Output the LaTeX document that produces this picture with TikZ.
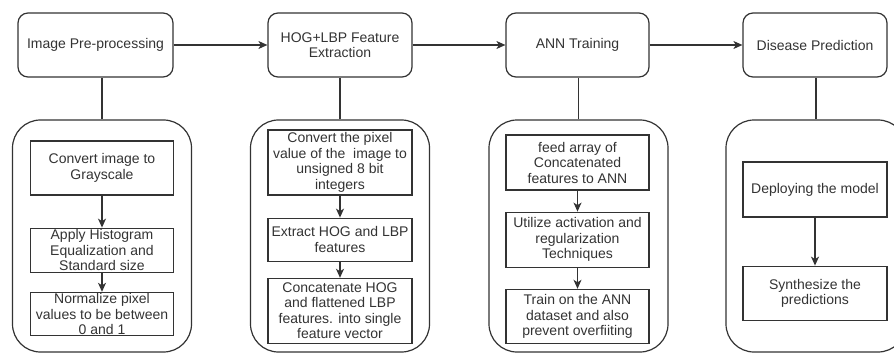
\documentclass[tikz,border=0pt]{standalone}
\usepackage{fontspec}
\setmainfont{Liberation Sans}
\usetikzlibrary{arrows.meta, positioning}
\definecolor{ink}{HTML}{333333}
\begin{document}
\begin{tikzpicture}[x=1pt, y=1pt, line width=1.2pt, color=ink,
                    every node/.style={align=center, inner sep=1pt, font=\fontsize{14}{15.5}\selectfont},
                    stage/.style={draw, rounded corners=10pt, minimum width=144pt, minimum height=64pt},
                    group/.style={draw, rounded corners=28pt, minimum width=179pt, minimum height=232pt},
                    task/.style={draw, minimum width=143pt},
                    flow/.style={-{Stealth[length=9pt, width=8pt, inset=2.5pt]}}]
                    \useasboundingbox (0,0) rectangle (894,354);
                    \clip (0,0) rectangle (894,354);
                    \node[stage, minimum width=155pt](s1) at (95.5,309){Image Pre-processing};
                    \node[stage](s2) at (340,309){HOG+LBP Feature\\Extraction};
                    \node[stage, minimum width=143pt](s3) at (577.5,309){ANN Training};
                    \node[stage](s4) at (815,309){Disease Prediction};
                    \draw[flow] (s1) -- (s2);
                    \draw[flow] (s2) -- (s3);
                    \draw[flow] (s3) -- (s4);
                    \node[group](g1) at (102,118){};
                    \node[group](g2) at (340,118){};
                    \node[group](g3) at (578.5,118){};
                    \node[group, minimum width=180pt](g4) at (816,118){};
                    \foreach \i in {1,...,4}
                        \draw (g\i.north) -- (g\i.north |- s\i.south);
                    \node[task, minimum height=54pt](a1) at (102,186){Convert image to\\Grayscale};
                    \node[task, minimum height=44pt, below=32pt of a1](b1){Apply Histogram\\Equalization and\\Standard size};
                    \node[task, minimum height=43pt, below=19pt of b1](c1){Normalize pixel\\values to be between\\0 and 1};
                    \node[task, minimum width=144pt, minimum height=65pt](a2) at (340,191.5){Convert the pixel\\value of the~ image to\\unsigned 8 bit\\integers};
                    \node[task, minimum width=144pt, minimum height=43pt, below=22pt of a2](b2){Extract HOG and LBP\\features};
                    \node[task, minimum width=144pt, minimum height=65pt, below=16pt of b2](c2){Concatenate HOG\\and flattened LBP\\features. into single\\feature vector};
                    \node[task, minimum height=55pt](a3) at (577.5,191.5){feed array of\\Concatenated\\features to ANN};
                    \node[task, minimum height=55pt, below=21pt of a3](b3){Utilize activation and\\regularization\\Techniques};
                    \node[task, minimum height=54pt, below=21pt of b3](c3){Train on the ANN\\dataset and also\\prevent overfiiting};
                    \node[task, minimum width=144pt, minimum height=55pt](a4) at (815,164.5){Deploying the model};
                    \node[task, minimum width=144pt, minimum height=54pt, below=48pt of a4](b4){Synthesize the\\predictions};
                    \draw[flow] (a1) -- (b1);
                    \draw[flow] (b1) -- (c1);
                    \draw[flow] (a2) -- (b2);
                    \draw[flow] (b2) -- (c2);
                    \draw[flow] (a3) -- (b3);
                    \draw[flow] (b3) -- (c3);
                    \draw[flow] (a4) -- (b4);
                \end{tikzpicture}
\end{document}
